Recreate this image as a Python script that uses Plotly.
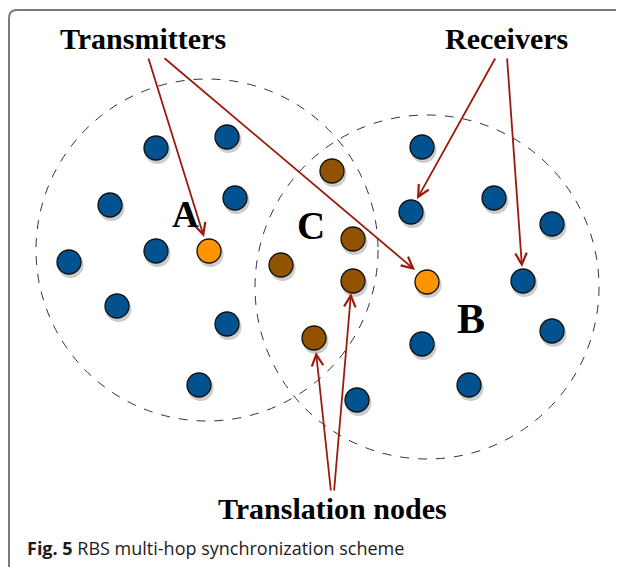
import plotly.graph_objects as go

# node positions (px in the 624x567 drawing, y down)
blue_x = [156, 227, 110, 235, 156, 69, 117, 227, 199,
          422, 411, 494, 552, 523, 552, 422, 469, 357]
blue_y = [148, 137, 205, 198, 251, 262, 306, 324, 385,
          147, 212, 198, 224, 281, 331, 344, 385, 400]
orange_x = [209, 427]
orange_y = [251, 282]
brown_x = [332, 353, 281, 353, 314]
brown_y = [171, 239, 265, 281, 338]

# ranges: centre x, centre y, radius
zones = [(207, 250, 171), (427, 287, 172)]
zone_labels = ['A', 'B', 'C']
zone_label_x = [185, 471, 311]
zone_label_y = [214, 319, 225]
zone_label_size = [37, 42, 39]

titles = ['Transmitters', 'Receivers', 'Translation nodes']
title_x = [143, 506, 332]
title_y = [38, 38, 508]

# arrows: tail (x, y) -> head (x, y)
arrow_from_x = [148, 163, 496, 507, 331, 334]
arrow_from_y = [57, 57, 57, 57, 492, 492]
arrow_to_x = [204, 415, 417, 522, 316, 351]
arrow_to_y = [237, 270, 199, 267, 352, 293]

caption = '<b>Fig. 5</b> RBS multi-hop synchronization scheme'

W, H = 624, 567
OFF = 8  # page body margin, so the axes start at the window corner
fig = go.Figure()

# frame (left edge pushed to the first drawable column)
fig.add_shape(type='path', path='M 9 580 L 9 18 Q 9 10 17 10 L 640 10',
              line=dict(color='#7a7a7a', width=2))

for cx, cy, r in zones:
    fig.add_shape(type='circle', x0=cx - r, x1=cx + r, y0=cy - r, y1=cy + r,
                  line=dict(color='#333333', width=1, dash='dash'))

all_x = blue_x + orange_x + brown_x
all_y = blue_y + orange_y + brown_y
# soft drop shadows
fig.add_trace(go.Scatter(
    x=[v + 1.5 for v in all_x], y=[v + 3 for v in all_y], mode='markers',
    marker=dict(size=26, color='rgba(0,0,0,0.2)', line=dict(width=0)),
    hoverinfo='skip', showlegend=False))

for xs, ys, col in [(blue_x, blue_y, '#02528f'),
                    (orange_x, orange_y, '#ff9400'),
                    (brown_x, brown_y, '#925300')]:
    fig.add_trace(go.Scatter(
        x=xs, y=ys, mode='markers',
        marker=dict(size=24, color=col, line=dict(color='#111111', width=1.3)),
        hoverinfo='skip', showlegend=False))

for i in range(len(arrow_from_x)):
    fig.add_annotation(x=arrow_to_x[i], y=arrow_to_y[i],
                       ax=arrow_from_x[i], ay=arrow_from_y[i],
                       xref='x', yref='y', axref='x', ayref='y',
                       text='', showarrow=True, arrowhead=5, arrowsize=1.25,
                       arrowwidth=1.8, arrowcolor='#9b1a0c')

for t, x, y in zip(titles, title_x, title_y):
    fig.add_annotation(x=x, y=y, text='<b>' + t + '</b>', showarrow=False,
                       xanchor='center', yanchor='middle',
                       font=dict(family='Liberation Serif', size=30, color='#000000'))

for t, x, y, s in zip(zone_labels, zone_label_x, zone_label_y, zone_label_size):
    fig.add_annotation(x=x, y=y, text='<b>' + t + '</b>', showarrow=False,
                       xanchor='center', yanchor='middle',
                       font=dict(family='Liberation Serif', size=s, color='#000000'))

fig.add_annotation(x=25, y=548, text=caption, showarrow=False,
                   xanchor='left', yanchor='middle',
                   font=dict(family='Open Sans', size=18, color='#1e1b1c'))

fig.update_xaxes(range=[OFF, W + OFF], visible=False, fixedrange=True)
fig.update_yaxes(range=[H + OFF, OFF], visible=False, fixedrange=True)
fig.update_layout(width=W, height=H, margin=dict(l=0, r=0, t=0, b=0),
                  plot_bgcolor='white', paper_bgcolor='white')

fig.write_html('out.html')
